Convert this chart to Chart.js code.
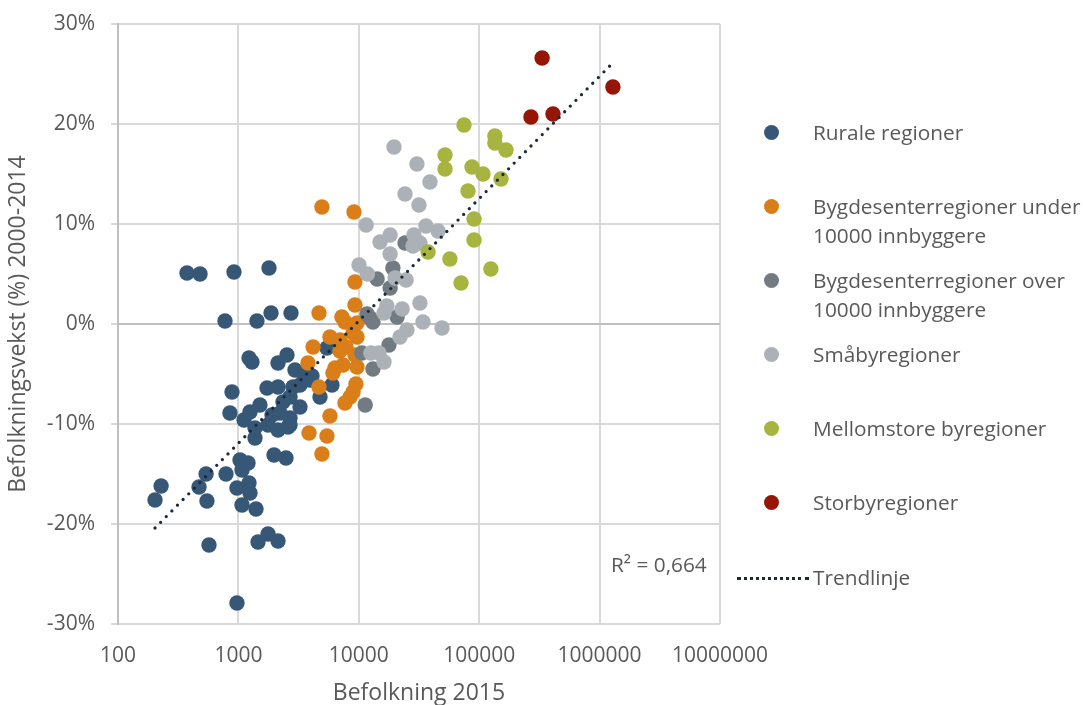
<!DOCTYPE html>
<html lang="no">
<head>
<meta charset="UTF-8">
<title>Befolkningsvekst og befolkning</title>
<script src="https://cdn.jsdelivr.net/npm/chart.js@4.4.0/dist/chart.umd.min.js"></script>
<style>
  body { margin: 0; background: #fff; font-family: "Open Sans", sans-serif; }
  #wrap { position: relative; width: 1083px; height: 705px; }
  #legend { position: absolute; left: 0; top: 0; }
  .item { position: absolute; left: 764px; color: #595959; font-size: 20.8px; line-height: 29px; }
  .item .dot { position: absolute; left: 0; top: 7px; width: 15px; height: 15px; border-radius: 50%; }
  .item .txt { position: absolute; left: 49px; white-space: nowrap; }
  .trend { position: absolute; left: 737px; top: 563px; color: #595959; font-size: 20.8px; line-height: 29px; }
  .trend .line { position: absolute; left: 0; top: 14px; width: 72px; border-top: 3px dotted #1c2a3a; }
  .trend .txt { position: absolute; left: 76px; white-space: nowrap; }
  #r2 { position: absolute; left: 611px; top: 550px; color: #595959; font-size: 20.8px; line-height: 29px; }
</style>
</head>
<body>
<div id="wrap">
  <canvas id="chart"></canvas>
  <div id="legend"></div>
  <div id="r2">R² = 0,664</div>
</div>
<script>
// series names and colours
const seriesNames = ['Rurale regioner', 'Bygdesenterregioner under\n10000 innbyggere', 'Bygdesenterregioner over\n10000 innbyggere', 'Småbyregioner', 'Mellomstore byregioner', 'Storbyregioner'];
const seriesColors = ['#375777', '#da7e1a', '#737b82', '#abb1b7', '#a7b43f', '#961605'];

// [befolkning 2015, vekst % 2000-2014]
const rurale = [
  [203,-17.6],[374,5.1],[480,5.0],[919,5.2],[1795,5.6],[774,0.3],[1426,0.3],[1866,1.1],[2735,1.1],
  [228,-16.2],[471,-16.3],[539,-15.0],[548,-17.7],[570,-22.1],[789,-15.0],[973,-27.9],[1031,-13.6],
  [1202,-13.9],[1071,-14.6],[973,-16.4],[1225,-15.9],[1248,-16.9],[1071,-18.1],[1400,-18.5],[1455,-21.8],
  [1762,-21.0],[2133,-21.7],[1976,-13.1],[2484,-13.4],[1374,-11.4],[1374,-10.4],[1113,-9.6],[885,-6.8],
  [851,-8.9],[1225,-3.4],[1297,-3.8],[2533,-3.1],[2133,-3.9],[2951,-4.6],[3439,-4.9],[3932,-5.6],
  [1729,-6.4],[2133,-6.3],[2840,-6.3],[3248,-6.1],[4763,-7.3],[1510,-8.1],[2684,-7.3],[2346,-7.8],
  [3248,-8.3],[1248,-8.8],[1901,-9.1],[2216,-8.9],[2684,-9.4],[1762,-10.1],[2133,-10.6],[2684,-10.1],
  [2582,-10.3],[5441,-2.4],[5985,-6.1],[4085,-5.2]
];
const bygdUnder = [
  [4940,11.7],[9120,11.2],[9290,4.2],[4670,1.1],[9290,1.9],[7240,0.7],[7670,0.2],[8960,-0.9],[9660,-1.3],
  [5760,-1.3],[7830,-2.3],[4170,-2.3],[6980,-2.7],[9290,-3.1],[3780,-3.9],[7390,-4.1],[9660,-4.3],
  [6340,-4.4],[6100,-4.9],[4670,-6.3],[9460,-6.0],[8960,-6.8],[8460,-7.3],[7670,-7.9],[5760,-9.2],
  [3860,-10.9],[5440,-11.2],[4940,-13.0],[9660,0.1],[6980,-1.6]
];
const bygdOver = [
  [24200,8.1],[19200,5.6],[14200,4.5],[18200,3.6],[11700,1.0],[13100,0.2],[12400,0.6],[20800,0.7],
  [17800,-2.1],[10600,-2.9],[13100,-4.5],[11300,-8.1]
];
const smaby = [
  [19600,17.7],[30400,16.0],[39000,14.2],[24200,13.0],[31600,11.9],[11500,9.9],[15000,8.2],[18200,8.9],
  [18200,7.0],[28700,8.9],[36100,9.8],[45500,9.3],[28200,7.8],[32200,8.1],[10040,5.9],[11800,5.0],
  [20000,4.6],[24700,4.4],[17100,1.8],[22900,1.5],[32200,2.1],[16200,1.1],[34100,0.2],[49100,-0.4],
  [25100,-0.6],[22000,-1.3],[12600,-2.9],[14700,-2.9],[16200,-3.8]
];
const mellomstore = [
  [74800,19.9],[135000,18.8],[135000,18.1],[167000,17.4],[52000,16.9],[52000,15.5],[87100,15.7],
  [107600,15.0],[151800,14.5],[80700,13.3],[90600,10.5],[90600,8.4],[37600,7.2],[57100,6.5],
  [70600,4.1],[125000,5.5]
];
const storby = [[333000,26.6],[1290000,23.7],[269000,20.7],[410000,21.0]];

// trendline endpoints as drawn in the figure
const trend = [[203,-20.4],[1260000,26.0]];

const xTicks = [100, 1000, 10000, 100000, 1000000, 10000000];
const yTicks = [-30, -20, -10, 0, 10, 20, 30];

const allSeries = [rurale, bygdUnder, bygdOver, smaby, mellomstore, storby];
const toPts = arr => arr.map(p => ({ x: p[0], y: p[1] }));

const datasets = [{
  type: 'line',
  label: 'Trendlinje',
  data: toPts(trend),
  borderColor: '#1c2a3a',
  borderWidth: 3.3,
  borderDash: [0, 8],
  borderCapStyle: 'round',
  pointRadius: 0,
  fill: false,
  order: 0
}];
allSeries.forEach((s, i) => {
  datasets.push({
    type: 'scatter',
    label: seriesNames[i],
    data: toPts(s),
    backgroundColor: seriesColors[i],
    borderWidth: 0,
    pointRadius: 7.7,
    pointHoverRadius: 7.7,
    order: 6 - i
  });
});

const tickFont = { family: '"Open Sans", sans-serif', size: 21 };
const titleFont = { family: '"Open Sans", sans-serif', size: 23 };
const grey = '#595959';

new Chart(document.getElementById('chart'), {
  data: { datasets },
  options: {
    responsive: true,
    maintainAspectRatio: false,
    animation: false,
    events: [],
    layout: { padding: { top: 24, right: 363, bottom: 0, left: 0 } },
    plugins: { legend: { display: false }, tooltip: { enabled: false } },
    scales: {
      x: {
        type: 'logarithmic',
        min: 100, max: 10000000,
        afterBuildTicks: s => { s.ticks = xTicks.map(v => ({ value: v })); },
        afterFit: s => { s.height = 81; s.paddingLeft = 0; s.paddingRight = 0; },
        ticks: { color: grey, font: tickFont, padding: 19, maxRotation: 0, autoSkip: false, callback: v => String(v) },
        grid: { color: '#d9d9d9', lineWidth: 2, drawTicks: false },
        border: { display: false },
        title: { display: true, text: 'Befolkning 2015', color: grey, font: titleFont, padding: { top: 0, bottom: -2 } }
      },
      y: {
        min: -30, max: 30,
        afterBuildTicks: s => { s.ticks = yTicks.map(v => ({ value: v })); },
        afterFit: s => { s.width = 118; s.paddingTop = 0; s.paddingBottom = 0; },
        ticks: { color: grey, font: tickFont, padding: 16, callback: v => v + '%' },
        grid: {
          color: c => c.tick && c.tick.value === 0 ? '#bfbfbf' : '#d9d9d9',
          lineWidth: 2, tickLength: 7, tickColor: '#d9d9d9'
        },
        border: { color: '#bfbfbf', width: 2 },
        title: { display: true, text: 'Befolkningsvekst (%) 2000-2014', color: grey, font: titleFont, padding: { top: 5, bottom: 0 } }
      }
    }
  }
});

// legend (HTML)
const legendTops = [118, 192, 266, 340, 414, 488];
const legend = document.getElementById('legend');
seriesNames.forEach((name, i) => {
  const el = document.createElement('div');
  el.className = 'item';
  el.style.top = legendTops[i] + 'px';
  el.innerHTML = '<span class="dot" style="background:' + seriesColors[i] + '"></span><span class="txt">' + name.replace('\n', '<br>') + '</span>';
  legend.appendChild(el);
});
const t = document.createElement('div');
t.className = 'trend';
t.innerHTML = '<span class="line"></span><span class="txt">Trendlinje</span>';
legend.appendChild(t);
</script>
</body>
</html>
